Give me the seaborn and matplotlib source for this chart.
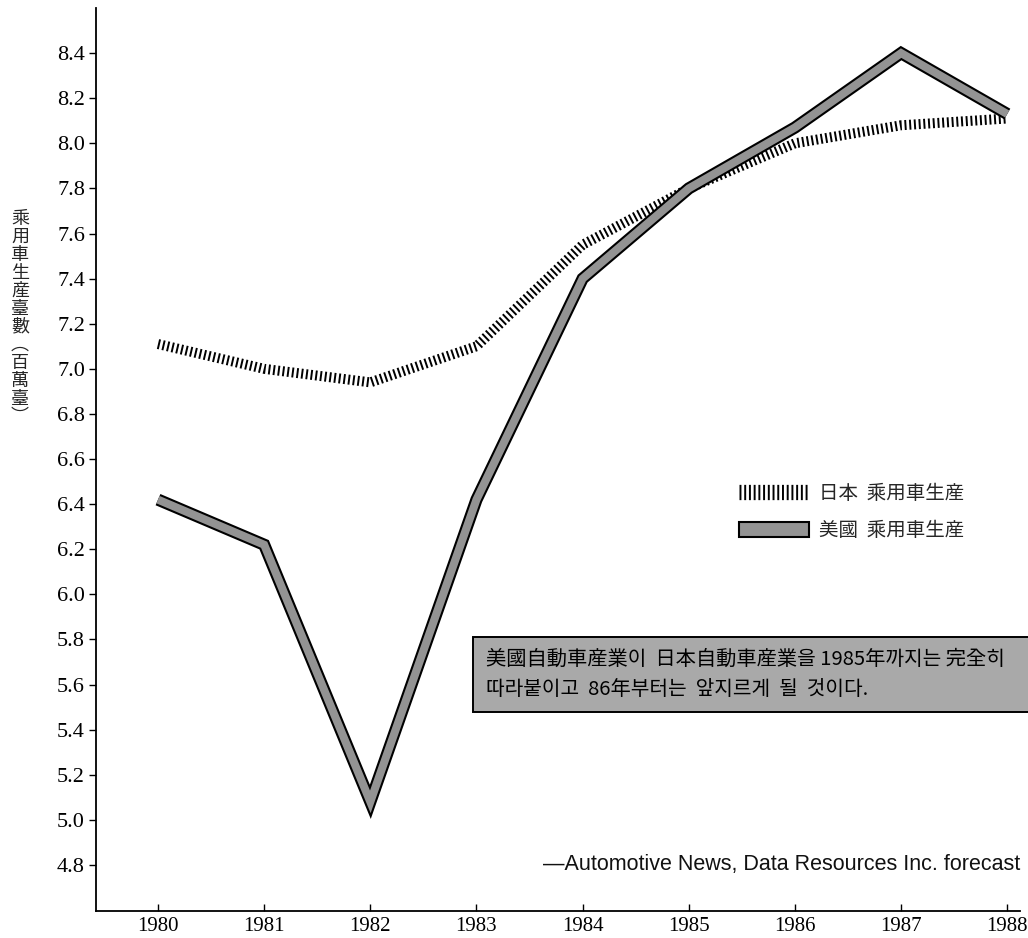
import matplotlib
matplotlib.use("Agg")
import matplotlib.pyplot as plt
import matplotlib.patheffects as pe
from matplotlib.lines import Line2D
from matplotlib.patches import Patch, Rectangle
import seaborn as sns
import pandas as pd

# ---- data ----
years = [1980, 1981, 1982, 1983, 1984, 1985, 1986, 1987, 1988]
japan = [7.11, 7.00, 6.94, 7.10, 7.55, 7.80, 8.00, 8.08, 8.11]
usa = [6.42, 6.22, 5.08, 6.42, 7.40, 7.80, 8.07, 8.40, 8.13]
yticks = [4.8, 5.0, 5.2, 5.4, 5.6, 5.8, 6.0, 6.2, 6.4, 6.6, 6.8, 7.0, 7.2, 7.4, 7.6, 7.8, 8.0, 8.2, 8.4]
label_japan = "日本  乘用車生産"
label_usa = "美國  乘用車生産"
ylabel = "乘用車生産臺數︵百萬臺︶"
note = "美國自動車産業이  日本自動車産業을 1985年까지는 完全히\n따라붙이고  86年부터는  앞지르게  될  것이다."
source = "—Automotive News, Data Resources Inc. forecast"

sns.set_theme(style="ticks")
plt.rcParams["font.family"] = ["Noto Sans CJK KR", "DejaVu Sans"]
plt.rcParams["lines.scale_dashes"] = False

df = pd.DataFrame({"year": years, "japan": japan, "usa": usa})

fig = plt.figure(figsize=(10.28, 9.38), dpi=100)
ax = fig.add_axes([96 / 1028, 27 / 938, (1020 - 96) / 1028, 903 / 938])

# Japan: vertical hatch line
sns.lineplot(data=df, x="year", y="japan", ax=ax, color="black", linewidth=7.2)
ln_j = ax.lines[-1]
ln_j.set_linestyle((0, (1.4, 2.0)))
ln_j.set_dash_capstyle("butt")

# USA: gray band with black outline
sns.lineplot(data=df, x="year", y="usa", ax=ax, color="#939393", linewidth=5.8)
ln_u = ax.lines[-1]
ln_u.set_solid_joinstyle("miter")
ln_u.set_solid_capstyle("butt")
ln_u.set_path_effects([pe.Stroke(linewidth=8.8, foreground="black", joinstyle="miter", capstyle="butt"), pe.Normal()])

ax.set_xlim(1979.416, 1988.12)
ax.set_ylim(4.596, 8.6)
ax.set_xticks(years)
ax.set_xticklabels([str(y) for y in years], family=["Liberation Serif", "DejaVu Serif"], fontsize=15)
ax.set_yticks(yticks)
ax.set_yticklabels([f"{v:.1f}" for v in yticks], family=["Liberation Serif", "DejaVu Serif"], fontsize=16)
ax.tick_params(axis="x", direction="in", length=5, width=1, pad=4, colors="black")
ax.tick_params(axis="y", direction="out", length=5, width=1, pad=3, colors="black")
for s in ["top", "right"]:
    ax.spines[s].set_visible(False)
for s in ["left", "bottom"]:
    ax.spines[s].set_color("black")
    ax.spines[s].set_linewidth(1.3)

ax.set_xlabel("")
ax.set_ylabel("\n".join(ylabel), rotation=0, fontsize=13, linespacing=1.0, va="center", ha="center")
ax.yaxis.set_label_coords(-0.0823, 0.657)

# legend
h_j = Line2D([], [], color="black", linewidth=11, linestyle=(0, (1.4, 2.0)), dash_capstyle="butt")
h_u = Patch(facecolor="#939393", edgecolor="black", linewidth=1.5)
leg = ax.legend([h_j, h_u], [label_japan, label_usa], loc="center left",
                bbox_to_anchor=(739 / 1028, 1 - 512 / 938), bbox_transform=fig.transFigure,
                frameon=False, fontsize=14, handlelength=3.6, handleheight=0.75,
                handletextpad=0.5, labelspacing=0.85, borderpad=0, borderaxespad=0)

# annotation box
fig.patches.append(Rectangle((473 / 1028, 1 - 712 / 938), 600 / 1028, 75 / 938,
                             transform=fig.transFigure, facecolor="#a9a9a9",
                             edgecolor="black", linewidth=1.4, zorder=3))
fig.text(486 / 1028, 1 - 674.5 / 938, note, fontsize=14.6, va="center", ha="left", linespacing=1.62,
         color="black", zorder=4)

# source
fig.text(1020 / 1028, 1 - 864 / 938, source, fontsize=15.5, ha="right", va="center",
         family=["Liberation Sans Narrow", "Liberation Sans", "DejaVu Sans"], color="#111111")

fig.savefig("out.png", dpi=100)
